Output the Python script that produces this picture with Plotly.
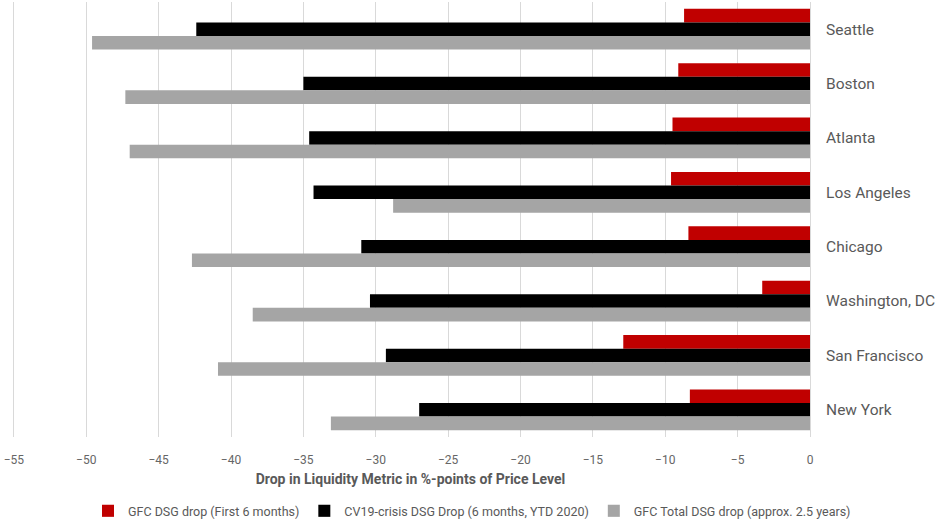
import plotly.graph_objects as go

cities = ["Seattle", "Boston", "Atlanta", "Los Angeles", "Chicago",
          "Washington, DC", "San Francisco", "New York"]
gfc_first6 = [-8.7, -9.1, -9.5, -9.6, -8.4, -3.3, -12.9, -8.3]
cv19_6m = [-42.4, -35.0, -34.6, -34.3, -31.0, -30.4, -29.3, -27.0]
gfc_total = [-49.6, -47.3, -47.0, -28.8, -42.7, -38.5, -40.9, -33.1]

series_names = ["GFC DSG drop (First 6 months)",
                "CV19-crisis DSG Drop (6 months, YTD 2020)",
                "GFC Total DSG drop (approx. 2.5 years)"]
colors = ["#c00000", "#000000", "#a5a5a5"]

x_ticks = list(range(-55, 1, 5))

fig = go.Figure()
for name, vals, col in zip(series_names, [gfc_first6, cv19_6m, gfc_total], colors):
    fig.add_trace(go.Bar(y=cities, x=vals, name=name, orientation="h",
                         marker=dict(color=col, line=dict(width=0))))

fig.update_layout(
    width=944, height=519,
    barmode="group", bargap=0.25, bargroupgap=0,
    plot_bgcolor="white", paper_bgcolor="white",
    margin=dict(l=11, r=134, t=2, b=82),
    font=dict(family="Roboto", color="#595959"),
    xaxis=dict(range=[-55.2, 0], tickvals=x_ticks, showgrid=True,
               gridcolor="#d9d9d9", gridwidth=1, zeroline=False,
               tickfont=dict(size=12, color="#666666"), ticklabelstandoff=14,
               title=dict(text="<b>Drop in Liquidity Metric in %-points of Price Level</b>",
                          font=dict(size=14, color="#595959"), standoff=8)),
    yaxis=dict(categoryorder="array", categoryarray=cities, autorange="reversed",
               side="right", showline=True, linecolor="#d9d9d9",
               tickfont=dict(size=15.5), ticklabelstandoff=12),
    legend=dict(orientation="h", xref="container", yref="container",
                x=0.5, xanchor="center", y=0.015, yanchor="middle",
                itemwidth=30,
                font=dict(size=12.5, color="#595959"), traceorder="normal"),
)

fig.write_html("out.html")
